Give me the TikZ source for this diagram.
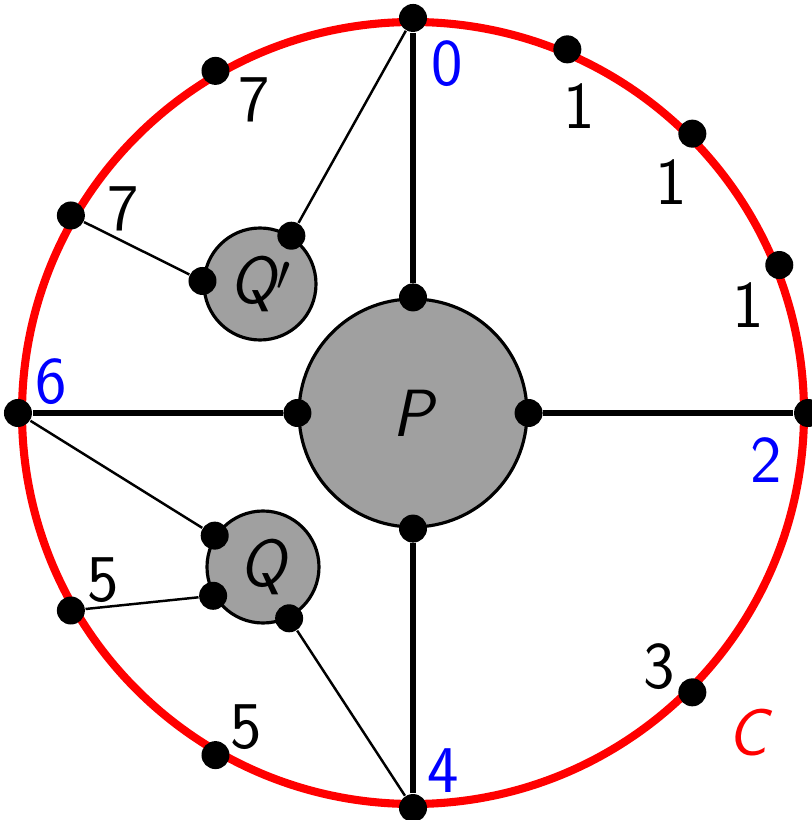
\documentclass[tikz,border=0pt]{standalone}
\usepackage{fontspec}
\usepackage{tikz}
\usepackage{xcolor}
\usetikzlibrary{positioning}
\definecolor{ringcolor}{RGB}{255, 0, 0}
\definecolor{portcolor}{RGB}{0, 0, 255}
\definecolor{blobcolor}{RGB}{160, 160, 160}
\tikzset{
	ring/.style={draw=ringcolor, line width=2.3pt, shape=circle, inner sep=0pt, minimum size=7.82cm},
	blob/.style={draw=black, fill=blobcolor, line width=0.9pt, shape=circle, inner sep=0pt, font=\fontsize{19}{22}\selectfont\sffamily},
	dot/.style={fill=black, shape=circle, inner sep=0pt, minimum size=0.28cm},
	wire/.style={line width=1.9pt},
	link/.style={line width=0.7pt},
	lbl/.style={font=\fontsize{19}{22}\selectfont\sffamily, inner sep=0pt},
	port/.style={lbl, text=portcolor}
}

\begin{document}
\begin{tikzpicture}[node distance = 1cm, on grid]
		\useasboundingbox (-4.13,-4.07) rectangle (3.98,4.13);

		% Nodes
		\node (C) [ring] at (0,0) {};
		\node (P) [blob, minimum size=2.28cm] at (0,0) {\slshape P};
		\node (Qp) [blob, minimum size=1.12cm] at (-1.53,1.29) {\raisebox{-0.03cm}{\slshape Q}\raisebox{0.1cm}{$\scriptstyle\prime$}};
		\node (Q) [blob, minimum size=1.12cm] at (-1.50,-1.54) {\slshape Q};
		
		% Dots on the ring
		\node (c0) [dot] at (C.90) {};
		\node (c1a) [dot] at (C.67.5) {};
		\node (c1b) [dot] at (C.45) {};
		\node (c1c) [dot] at (C.22.5) {};
		\node (c2) [dot] at (C.0) {};
		\node (c3) [dot] at (C.-45) {};
		\node (c4) [dot] at (C.-90) {};
		\node (c5a) [dot] at (C.-120) {};
		\node (c5b) [dot] at (C.-150) {};
		\node (c6) [dot] at (C.180) {};
		\node (c7a) [dot] at (C.150) {};
		\node (c7b) [dot] at (C.120) {};
		
		% Dots on the blobs
		\node (pn) [dot] at (P.north) {};
		\node (pe) [dot] at (P.east) {};
		\node (ps) [dot] at (P.south) {};
		\node (pw) [dot] at (P.west) {};
		\node (qpa) [dot] at (Qp.57) {};
		\node (qpb) [dot] at (Qp.177) {};
		\node (qa) [dot] at (Q.147) {};
		\node (qb) [dot] at (Q.210) {};
		\node (qc) [dot] at (Q.-63) {};
		
		% Labels
		\node[below right=0.46cm and 0.34cm of c0, port] {0};
		\node[below right=0.57cm and 0.12cm of c1a, lbl] {1};
		\node[below left=0.48cm and 0.21cm of c1b, lbl] {1};
		\node[below left=0.40cm and 0.31cm of c1c, lbl] {1};
		\node[below left=0.47cm and 0.42cm of c2, port] {2};
		\node[above left=0.26cm and 0.33cm of c3, lbl] {3};
		\node[above right=0.37cm and 0.30cm of c4, port] {4};
		\node[above right=0.28cm and 0.31cm of c5a, lbl] {5};
		\node[above right=0.30cm and 0.32cm of c5b, lbl] {5};
		\node[above right=0.31cm and 0.33cm of c6, port] {6};
		\node[above right=0.07cm and 0.52cm of c7a, lbl] {7};
		\node[below right=0.29cm and 0.39cm of c7b, lbl] {7};
		\node[lbl, text=ringcolor] at (3.35,-3.20) {\slshape C};
		
		% Wires
		\draw[wire] (pn) -- (c0);
		\draw[wire] (pe) -- (c2);
		\draw[wire] (ps) -- (c4);
		\draw[wire] (pw) -- (c6);
		\draw[link] (qpa) -- (c0);
		\draw[link] (qpb) -- (c7a);
		\draw[link] (qa) -- (c6);
		\draw[link] (qb) -- (c5b);
		\draw[link] (qc) -- (c4);

\end{tikzpicture}
\end{document}
